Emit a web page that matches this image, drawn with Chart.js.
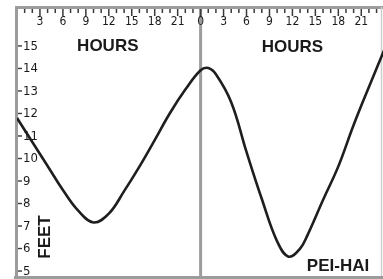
<!DOCTYPE html>
<html>
<head>
<meta charset="utf-8">
<script src="https://cdn.jsdelivr.net/npm/chart.js@4/dist/chart.umd.min.js"></script>
<style>
  html,body{margin:0;padding:0;background:#fff;}
  #wrap{width:383px;height:279px;position:relative;}
</style>
</head>
<body>
<div id="wrap"><canvas id="c" width="383" height="279"></canvas></div>
<script>
// ---- data ----
const hours = [0,2,4,6,8,10,12,14,16,18,20,22,24,25,26,28,30,32,34,35.5,37,38,40,42,44,46,48];
const feet  = [11.8,10.73,9.67,8.6,7.68,7.16,7.55,8.55,9.64,10.82,12.02,13.06,13.92,14.02,13.74,12.5,10.29,8.2,6.32,5.64,6.0,6.62,8.16,9.65,11.49,13.18,14.82];
const hourTickValues = [3,6,9,12,15,18,21,24,27,30,33,36,39,42,45];
const hourTickLabels = ['3','6','9','12','15','18','21','0','3','6','9','12','15','18','21'];
const feetTicks = [5,6,7,8,9,10,11,12,13,14,15];
const dayDivider = 24;

const GREY = '#9c9c9c';

const decor = {
  id: 'decor',
  beforeDatasetsDraw(chart) {
    const ctx = chart.ctx, a = chart.chartArea;
    const xs = chart.scales.x, ys = chart.scales.y;
    ctx.save();
    // frame lines
    ctx.strokeStyle = GREY;
    ctx.lineWidth = 3;
    ctx.beginPath();
    ctx.moveTo(15, a.top + 0.5); ctx.lineTo(383, a.top + 0.5);
    ctx.moveTo(a.left - 0.5, a.top - 1); ctx.lineTo(a.left - 0.5, 279);
    ctx.moveTo(14, a.bottom + 1.5); ctx.lineTo(383, a.bottom + 1.5);
    const mx = xs.getPixelForValue(dayDivider);
    ctx.moveTo(mx, a.top); ctx.lineTo(mx, a.bottom);
    ctx.stroke();
    ctx.lineWidth = 1.5;
    ctx.strokeStyle = '#cfcfcf';
    ctx.beginPath();
    ctx.moveTo(381.5, a.top); ctx.lineTo(381.5, a.bottom);
    ctx.stroke();

    // ruler ticks (every hour)
    ctx.strokeStyle = '#3a3a3a';
    ctx.lineWidth = 1.5;
    ctx.beginPath();
    for (let h = 1; h < 48; h++) {
      const px = xs.getPixelForValue(h);
      if (px > a.right) break;
      const long = h % 3 === 0;
      ctx.moveTo(px, a.top + 2);
      ctx.lineTo(px, a.top + (long ? 9 : 6));
    }
    ctx.stroke();

    // ruler labels
    ctx.fillStyle = '#1a1a1a';
    ctx.font = '12px "DejaVu Sans Condensed", "DejaVu Sans", sans-serif';
    ctx.textAlign = 'center';
    ctx.textBaseline = 'middle';
    hourTickValues.forEach((v, i) => {
      ctx.fillText(hourTickLabels[i], xs.getPixelForValue(v), 22);
    });

    // feet ticks and labels
    ctx.strokeStyle = '#3a3a3a';
    ctx.lineWidth = 1.4;
    ctx.font = '13px "DejaVu Sans Condensed", "DejaVu Sans", sans-serif';
    ctx.textAlign = 'left';
    feetTicks.forEach(v => {
      const py = ys.getPixelForValue(v);
      ctx.beginPath();
      ctx.moveTo(a.left + 1, py); ctx.lineTo(a.left + 5, py);
      ctx.stroke();
      ctx.fillText(String(v), a.left + 6, py + 0.5);
    });

    // titles
    ctx.font = 'bold 17px "Liberation Sans", Arial, sans-serif';
    ctx.textAlign = 'center';
    ctx.fillText('HOURS', xs.getPixelForValue(12) - 1, 46);
    ctx.fillText('HOURS', xs.getPixelForValue(36), 47);
    ctx.fillText('PEI-HAI', 338, 266);
    ctx.save();
    ctx.translate(45, 237);
    ctx.rotate(-Math.PI / 2);
    ctx.fillText('FEET', 0, 0);
    ctx.restore();
    ctx.restore();
  }
};

new Chart(document.getElementById('c'), {
  type: 'line',
  data: {
    datasets: [{
      data: hours.map((h, i) => ({x: h, y: feet[i]})),
      borderColor: '#1e1e1e',
      borderWidth: 2.6,
      pointRadius: 0,
      tension: 0.4,
      fill: false
    }]
  },
  options: {
    responsive: false,
    animation: false,
    devicePixelRatio: 1,
    layout: { padding: { left: 17, top: 7, right: 0, bottom: 3 } },
    plugins: { legend: { display: false }, tooltip: { enabled: false } },
    scales: {
      x: { type: 'linear', display: false, min: 0, max: 47.84 },
      y: { type: 'linear', display: false, min: 4.78, max: 16.73 }
    }
  },
  plugins: [decor]
});
</script>
</body>
</html>
